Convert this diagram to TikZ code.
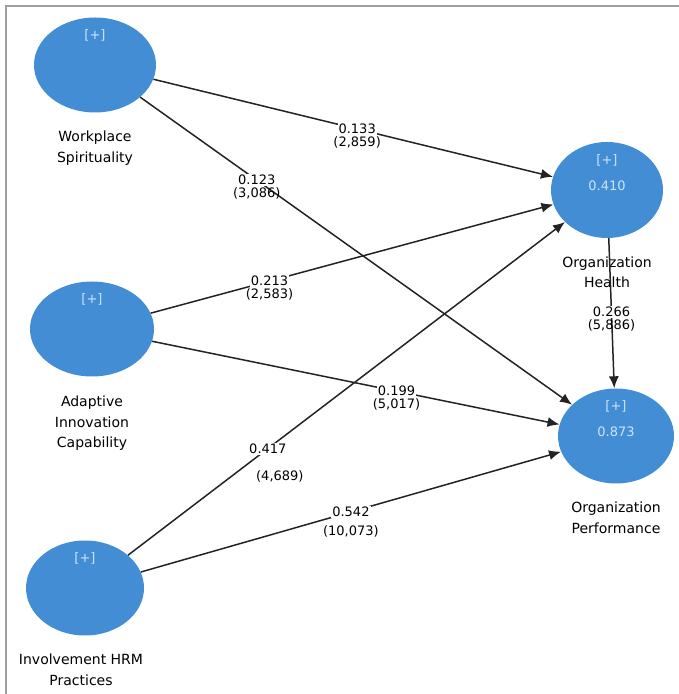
\documentclass[tikz,border=0pt]{standalone}
\usepackage{fontspec}
\setmainfont{DejaVu Sans}
\usetikzlibrary{shapes.geometric,positioning,arrows.meta}
\definecolor{lvblue}{RGB}{66,141,212}
\definecolor{lvtext}{RGB}{205,228,250}
\definecolor{linegray}{RGB}{35,35,35}
\begin{document}
\begin{tikzpicture}[x=1pt,y=1pt]
\tikzstyle{latent}=[ellipse,fill=lvblue,minimum width=120pt,minimum height=95pt,inner sep=0pt]
\tikzstyle{lvname}=[align=center,inner sep=0pt,font=\fontsize{14}{20.5}\selectfont]
\tikzstyle{plus}=[inner sep=0pt,text=lvtext,font=\fontsize{13}{15}\selectfont]
\tikzstyle{link}=[draw=linegray,line width=1.5pt,-{Latex[length=12pt,width=10pt]}]
\tikzstyle{coef}=[fill=white,inner sep=1pt,font=\fontsize{13}{15}\selectfont,label distance=4pt]
\tikzstyle{tval}=[inner sep=0pt,font=\fontsize{13}{15}\selectfont]
\useasboundingbox (0,0) rectangle (679,694);
\draw[gray!75,line width=2pt] (679,688) -- (6,688) -- (6,0);

\path (95,629) node[latent,minimum width=122pt](ws){}
      (92,365) node[latent,minimum width=124pt](aic){}
      (85,106) node[latent,minimum width=118pt](ihrm){}
      (607,504) node[latent,minimum width=112pt,minimum height=96pt](oh){}
      (616,258) node[latent,minimum width=116pt](op){};

\node[plus,below=12.5pt of ws.north] {[+]};
\node[plus,below=12.5pt of aic.north] {[+]};
\node[plus,below=12.5pt of ihrm.north] {[+]};
\node[plus,below=12.5pt of oh.north] (ohplus) {[+]};
\node[plus,below=14pt of ohplus] {0.410};
\node[plus,below=12.5pt of op.north] (opplus) {[+]};
\node[plus,below=14pt of opplus] {0.873};

\node[lvname,below=18pt of ws] {Workplace\\Spirituality};
\node[lvname,below=19pt of aic] {Adaptive\\Innovation\\Capability};
\node[lvname,below=18pt of ihrm,xshift=-4pt] {Involvement HRM\\Practices};
\node[lvname,below=18pt of oh] {Organization\\Health};
\node[lvname,below=18pt of op] {Organization\\Performance};

\draw[link] (ws) -- node[coef,pos=.51,label={[tval]below:{(2,859)}}] {0.133} (oh);
\draw[link] (ws) -- node[coef,pos=.27,label={[tval]below:{(3,086)}}] {0.123} (op);
\draw[link] (aic) -- node[coef,pos=.295,label={[tval]below:{(2,583)}}] {0.213} (oh);
\draw[link] (aic) -- node[coef,pos=.6,label={[tval]below:{(5,017)}}] {0.199} (op);
\draw[link] (ihrm) -- node[coef,pos=.32,label={[tval,label distance=15pt,xshift=12pt]below:{(4,689)}}] {0.417} (oh);
\draw[link] (ihrm) -- node[coef,pos=.5,label={[tval,label distance=6pt]below:{(10,073)}}] {0.542} (op);
\draw[link] (oh) -- node[coef,pos=.49,label={[tval]below:{(5,886)}}] {0.266} (op);
\end{tikzpicture}
\end{document}
